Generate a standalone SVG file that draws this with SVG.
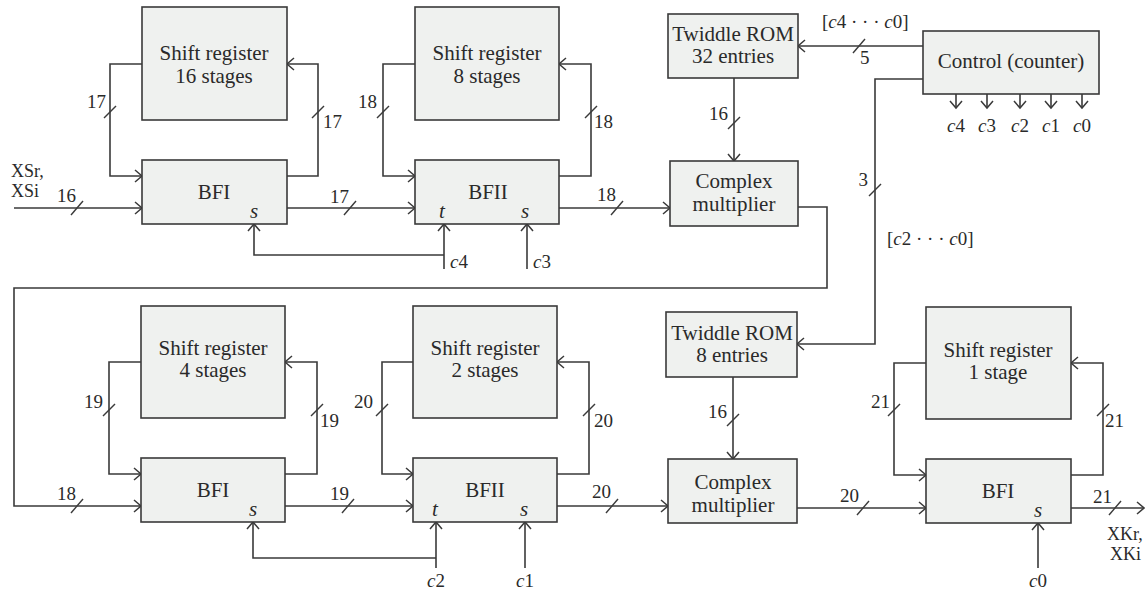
<svg xmlns="http://www.w3.org/2000/svg" width="1145" height="590" viewBox="0 0 1145 590" font-family="'Liberation Serif', 'DejaVu Serif', serif">
<style>
.box{fill:#eff1ef;stroke:#3a3a3a;stroke-width:1.6}
.arr{fill:none;stroke:#3a3a3a;stroke-width:1.6;marker-end:url(#ah)}
.sl{stroke:#3a3a3a;stroke-width:1.4}
text{font-family:'Liberation Serif','DejaVu Serif',serif;fill:#2a2a2a}
.bt{font-size:21px;text-anchor:middle}
.nm{font-size:19px}
.it{font-style:italic}
.lb{font-size:19px}
.io{font-size:18px}
</style>
<defs>
<marker id="ah" markerUnits="userSpaceOnUse" markerWidth="14" markerHeight="14" viewBox="-8 -7 10 14" refX="0" refY="0" orient="auto">
<path d="M-7,-6 L0,0 L-7,6" fill="none" stroke="#3a3a3a" stroke-width="1.5"/>
</marker>
</defs>

<g id="connectors">
<path class="arr" d="M14,208 H142"/>
<path class="arr" d="M142,64 H110 V176 H142"/>
<path class="arr" d="M287,176 H318 V64 H287"/>
<path class="arr" d="M287,208 H415"/>
<path class="arr" d="M444,269 V224"/>
<path class="arr" d="M444,255 H254 V224"/>
<path class="arr" d="M527,269 V224"/>
<path class="arr" d="M415,64 H383 V176 H415"/>
<path class="arr" d="M559,176 H591 V64 H559"/>
<path class="arr" d="M559,208 H670"/>
<path class="arr" d="M734,78 V161"/>
<path class="arr" d="M923,46 H798"/>
<path class="arr" d="M923,79 H875 V344 H797"/>
<path class="arr" d="M956,94 V108"/>
<path class="arr" d="M987,94 V108"/>
<path class="arr" d="M1020,94 V108"/>
<path class="arr" d="M1051,94 V108"/>
<path class="arr" d="M1082,94 V108"/>
<path class="arr" d="M798,207 H827 V288 H14 V506 H141"/>
<path class="arr" d="M141,362 H109 V474 H141"/>
<path class="arr" d="M285,474 H317 V362 H285"/>
<path class="arr" d="M285,506 H413"/>
<path class="arr" d="M436,568 V522"/>
<path class="arr" d="M436,558 H253 V522"/>
<path class="arr" d="M525,568 V522"/>
<path class="arr" d="M413,362 H382 V474 H413"/>
<path class="arr" d="M557,474 H589 V362 H557"/>
<path class="arr" d="M557,506 H668"/>
<path class="arr" d="M733,377 V459"/>
<path class="arr" d="M797,508 H926"/>
<path class="arr" d="M926,363 H894 V475 H926"/>
<path class="arr" d="M1071,475 H1103 V363 H1071"/>
<path class="arr" d="M1071,508 H1144"/>
<path class="arr" d="M1038,568 V523"/>
<g class="sl">
<line x1="71" y1="215" x2="83" y2="201"/>
<line x1="104" y1="118" x2="116" y2="106"/>
<line x1="312" y1="118" x2="324" y2="106"/>
<line x1="344" y1="215" x2="356" y2="201"/>
<line x1="377" y1="118" x2="389" y2="106"/>
<line x1="585" y1="118" x2="597" y2="106"/>
<line x1="611" y1="215" x2="623" y2="201"/>
<line x1="728" y1="129" x2="740" y2="117"/>
<line x1="853" y1="53" x2="865" y2="39"/>
<line x1="869" y1="196" x2="881" y2="184"/>
<line x1="71" y1="513" x2="83" y2="499"/>
<line x1="103" y1="416" x2="115" y2="404"/>
<line x1="311" y1="416" x2="323" y2="404"/>
<line x1="342" y1="513" x2="354" y2="499"/>
<line x1="376" y1="416" x2="388" y2="404"/>
<line x1="583" y1="416" x2="595" y2="404"/>
<line x1="606" y1="513" x2="618" y2="499"/>
<line x1="727" y1="426" x2="739" y2="414"/>
<line x1="857" y1="515" x2="869" y2="501"/>
<line x1="888" y1="416" x2="900" y2="404"/>
<line x1="1097" y1="416" x2="1109" y2="404"/>
<line x1="1109" y1="515" x2="1121" y2="501"/>
</g>
<g class="nm">
<text x="57" y="202">16</text>
<text x="106" y="108" text-anchor="end">17</text>
<text x="323" y="128">17</text>
<text x="330" y="203">17</text>
<text x="377" y="108" text-anchor="end">18</text>
<text x="594" y="128">18</text>
<text x="597" y="201">18</text>
<text x="728" y="120" text-anchor="end">16</text>
<text x="860" y="64">5</text>
<text x="868" y="186" text-anchor="end">3</text>
<text x="57" y="500">18</text>
<text x="103" y="408" text-anchor="end">19</text>
<text x="320" y="427">19</text>
<text x="330" y="500">19</text>
<text x="373" y="408" text-anchor="end">20</text>
<text x="594" y="427">20</text>
<text x="592" y="498">20</text>
<text x="727" y="418" text-anchor="end">16</text>
<text x="840" y="502">20</text>
<text x="890" y="408" text-anchor="end">21</text>
<text x="1105" y="427">21</text>
<text x="1093" y="503">21</text>
</g>
<g class="lb">
<text x="822" y="28">[<tspan class="it">c</tspan>4 · · · <tspan class="it">c</tspan>0]</text>
<text x="887" y="245">[<tspan class="it">c</tspan>2 · · · <tspan class="it">c</tspan>0]</text>
<text x="956" y="132" text-anchor="middle"><tspan class="it">c</tspan>4</text>
<text x="987" y="132" text-anchor="middle"><tspan class="it">c</tspan>3</text>
<text x="1020" y="132" text-anchor="middle"><tspan class="it">c</tspan>2</text>
<text x="1051" y="132" text-anchor="middle"><tspan class="it">c</tspan>1</text>
<text x="1082" y="132" text-anchor="middle"><tspan class="it">c</tspan>0</text>
<text x="450" y="268"><tspan class="it">c</tspan>4</text>
<text x="533" y="268"><tspan class="it">c</tspan>3</text>
<text x="436" y="587" text-anchor="middle"><tspan class="it">c</tspan>2</text>
<text x="525" y="587" text-anchor="middle"><tspan class="it">c</tspan>1</text>
<text x="1038" y="587" text-anchor="middle"><tspan class="it">c</tspan>0</text>
</g>
<g class="io">
<text x="11" y="177">XSr,</text>
<text x="11" y="197">XSi</text>
<text x="1107" y="540">XKr,</text>
<text x="1110" y="560">XKi</text>
</g>
</g>

<g id="sr16"><rect class="box" x="142" y="7" width="145" height="113"/><text class="bt" x="214" y="60">Shift register</text><text class="bt" x="214" y="83">16 stages</text></g>
<g id="bfi1"><rect class="box" x="142" y="160" width="145" height="64"/><text class="bt" x="214" y="199">BFI</text><text class="bt it" x="254" y="218">s</text></g>
<g id="sr8"><rect class="box" x="415" y="7" width="144" height="113"/><text class="bt" x="487" y="60">Shift register</text><text class="bt" x="487" y="83">8 stages</text></g>
<g id="bfii1"><rect class="box" x="415" y="160" width="144" height="64"/><text class="bt" x="488" y="199">BFII</text><text class="bt it" x="442" y="218">t</text><text class="bt it" x="525" y="218">s</text></g>
<g id="rom32"><rect class="box" x="668" y="14" width="130" height="64"/><text class="bt" x="733" y="41">Twiddle ROM</text><text class="bt" x="733" y="63">32 entries</text></g>
<g id="cm1"><rect class="box" x="670" y="161" width="128" height="65"/><text class="bt" x="734" y="188">Complex</text><text class="bt" x="734" y="211">multiplier</text></g>
<g id="control"><rect class="box" x="923" y="31" width="176" height="63"/><text class="bt" x="1011" y="68">Control (counter)</text></g>
<g id="sr4"><rect class="box" x="141" y="306" width="144" height="112"/><text class="bt" x="213" y="355">Shift register</text><text class="bt" x="213" y="377">4 stages</text></g>
<g id="bfi2"><rect class="box" x="141" y="458" width="144" height="64"/><text class="bt" x="213" y="497">BFI</text><text class="bt it" x="253" y="516">s</text></g>
<g id="sr2"><rect class="box" x="413" y="306" width="144" height="112"/><text class="bt" x="485" y="355">Shift register</text><text class="bt" x="485" y="377">2 stages</text></g>
<g id="bfii2"><rect class="box" x="413" y="458" width="144" height="64"/><text class="bt" x="485" y="497">BFII</text><text class="bt it" x="435" y="516">t</text><text class="bt it" x="524" y="516">s</text></g>
<g id="rom8"><rect class="box" x="666" y="312" width="131" height="65"/><text class="bt" x="732" y="340">Twiddle ROM</text><text class="bt" x="732" y="362">8 entries</text></g>
<g id="cm2"><rect class="box" x="668" y="459" width="129" height="64"/><text class="bt" x="733" y="489">Complex</text><text class="bt" x="733" y="512">multiplier</text></g>
<g id="sr1"><rect class="box" x="926" y="307" width="145" height="112"/><text class="bt" x="998" y="357">Shift register</text><text class="bt" x="998" y="379">1 stage</text></g>
<g id="bfi3"><rect class="box" x="926" y="459" width="145" height="64"/><text class="bt" x="998" y="498">BFI</text><text class="bt it" x="1038" y="517">s</text></g>
</svg>
